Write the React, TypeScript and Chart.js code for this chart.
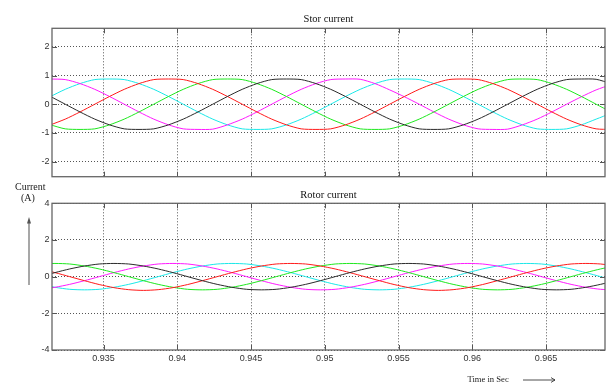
import React, { useEffect, useRef } from 'react';
import { Chart, registerables } from 'chart.js';

Chart.register(...registerables);

// ---------- data ----------
const statorTime = [
  0.9314, 0.9324, 0.9334, 0.9344, 0.9354, 0.9364, 0.9374, 0.9384, 0.9394, 0.9404,
  0.9414, 0.9424, 0.9434, 0.9444, 0.9454, 0.9464, 0.9474, 0.9484, 0.9494, 0.9504,
  0.9514, 0.9524, 0.9534, 0.9544, 0.9554, 0.9564, 0.9574, 0.9584, 0.9594, 0.9604,
  0.9614, 0.9624, 0.9634, 0.9644, 0.9654, 0.9664, 0.9674, 0.9684, 0.9694,
];
const statorBlack = [
  0.27, 0.0, -0.27, -0.52, -0.72, -0.86, -0.88, -0.86, -0.72, -0.52,
  -0.27, 0.0, 0.27, 0.52, 0.72, 0.86, 0.88, 0.86, 0.72, 0.52,
  0.27, 0.0, -0.27, -0.52, -0.72, -0.86, -0.88, -0.86, -0.72, -0.52,
  -0.27, 0.0, 0.27, 0.52, 0.72, 0.86, 0.88, 0.87, 0.72,
];
const statorRed = [
  -0.72, -0.52, -0.27, 0.0, 0.27, 0.52, 0.72, 0.86, 0.88, 0.86,
  0.72, 0.52, 0.27, 0.0, -0.27, -0.52, -0.72, -0.86, -0.88, -0.86,
  -0.72, -0.52, -0.27, 0.0, 0.27, 0.52, 0.72, 0.86, 0.88, 0.86,
  0.72, 0.52, 0.27, 0.0, -0.27, -0.52, -0.72, -0.86, -0.88,
];
const statorGreen = [
  -0.72, -0.86, -0.88, -0.86, -0.72, -0.52, -0.27, 0.0, 0.27, 0.52,
  0.72, 0.86, 0.88, 0.86, 0.72, 0.52, 0.27, 0.0, -0.27, -0.52,
  -0.72, -0.86, -0.88, -0.86, -0.72, -0.52, -0.27, 0.0, 0.27, 0.52,
  0.72, 0.86, 0.88, 0.86, 0.72, 0.52, 0.27, 0.0, -0.27,
];
const statorMagenta = [
  0.88, 0.86, 0.72, 0.52, 0.27, 0.0, -0.27, -0.52, -0.72, -0.86,
  -0.88, -0.87, -0.72, -0.52, -0.27, 0.0, 0.27, 0.52, 0.72, 0.86,
  0.88, 0.87, 0.72, 0.5, 0.26, 0.0, -0.27, -0.52, -0.72, -0.86,
  -0.88, -0.87, -0.72, -0.52, -0.27, 0.0, 0.26, 0.5, 0.68,
];
const statorCyan = [
  0.27, 0.52, 0.72, 0.86, 0.88, 0.86, 0.72, 0.52, 0.27, 0.0,
  -0.27, -0.52, -0.72, -0.86, -0.88, -0.86, -0.72, -0.52, -0.27, 0.0,
  0.27, 0.52, 0.72, 0.86, 0.88, 0.86, 0.72, 0.52, 0.27, 0.0,
  -0.27, -0.52, -0.72, -0.86, -0.88, -0.86, -0.72, -0.52, -0.32,
];

const rotorTime = [
  0.9307, 0.9317, 0.9327, 0.9337, 0.9347, 0.9357, 0.9367, 0.9377, 0.9387, 0.9397,
  0.9407, 0.9417, 0.9427, 0.9437, 0.9447, 0.9457, 0.9467, 0.9477, 0.9487, 0.9497,
  0.9507, 0.9517, 0.9527, 0.9537, 0.9547, 0.9557, 0.9567, 0.9577, 0.9587, 0.9597,
  0.9607, 0.9617, 0.9627, 0.9637, 0.9647, 0.9657, 0.9667, 0.9677, 0.9687, 0.9697,
];
const rotorBlack = [
  0.0, 0.22, 0.42, 0.58, 0.69, 0.72, 0.69, 0.58, 0.42, 0.22,
  0.0, -0.22, -0.42, -0.58, -0.69, -0.72, -0.69, -0.58, -0.42, -0.22,
  0.0, 0.22, 0.42, 0.58, 0.69, 0.72, 0.69, 0.58, 0.42, 0.22,
  0.0, -0.22, -0.42, -0.58, -0.69, -0.72, -0.69, -0.58, -0.42, -0.22,
];
const rotorRed = [
  0.42, 0.22, 0.0, -0.22, -0.43, -0.6, -0.71, -0.75, -0.71, -0.6,
  -0.43, -0.22, 0.0, 0.22, 0.42, 0.58, 0.69, 0.72, 0.69, 0.58,
  0.42, 0.22, 0.0, -0.22, -0.43, -0.6, -0.71, -0.75, -0.71, -0.6,
  -0.43, -0.22, 0.0, 0.22, 0.42, 0.58, 0.69, 0.72, 0.69, 0.58,
];
const rotorGreen = [
  0.69, 0.72, 0.69, 0.58, 0.42, 0.22, 0.0, -0.22, -0.42, -0.58,
  -0.69, -0.72, -0.69, -0.58, -0.42, -0.22, 0.0, 0.22, 0.42, 0.58,
  0.69, 0.72, 0.69, 0.58, 0.42, 0.22, 0.0, -0.22, -0.42, -0.58,
  -0.69, -0.72, -0.69, -0.58, -0.42, -0.22, 0.0, 0.22, 0.42, 0.58,
];
const rotorMagenta = [
  -0.69, -0.58, -0.42, -0.22, 0.0, 0.22, 0.42, 0.58, 0.69, 0.72,
  0.69, 0.58, 0.42, 0.22, 0.0, -0.22, -0.42, -0.58, -0.69, -0.72,
  -0.69, -0.58, -0.42, -0.22, 0.0, 0.22, 0.42, 0.58, 0.69, 0.72,
  0.69, 0.58, 0.42, 0.22, 0.0, -0.22, -0.42, -0.58, -0.69, -0.72,
];
const rotorCyan = [
  -0.42, -0.58, -0.69, -0.72, -0.69, -0.58, -0.42, -0.22, 0.0, 0.22,
  0.42, 0.58, 0.69, 0.72, 0.69, 0.58, 0.42, 0.22, 0.0, -0.22,
  -0.42, -0.58, -0.69, -0.72, -0.69, -0.58, -0.42, -0.22, 0.0, 0.22,
  0.42, 0.58, 0.69, 0.72, 0.69, 0.58, 0.42, 0.22, 0.0, -0.22,
];

const xTickValues = [0.935, 0.94, 0.945, 0.95, 0.955, 0.96, 0.965];
const xTickLabels = ['0.935', '0.94', '0.945', '0.95', '0.955', '0.96', '0.965'];
const statorYTicks = [-2, -1, 0, 1, 2];
const statorYLabels = ['-2', '-1', '0', '1', '2'];
const rotorYTicks = [-4, -2, 0, 2, 4];
const rotorYLabels = ['-4', '-2', '0', '2', '4'];

const seriesColors = {
  black: '#2a2a2a',
  red: '#ff1a1a',
  green: '#1ee81e',
  magenta: '#ff1aff',
  cyan: '#1ae8e8',
};

const SANS = "'Liberation Sans', Arial, sans-serif";
const SERIF = "'Liberation Serif', 'Times New Roman', serif";

// ---------- plugin: MATLAB style frame and inward ticks ----------
const framePlugin = {
  id: 'matlabFrame',
  afterDatasetsDraw(chart: any) {
    const { ctx, chartArea: a, scales } = chart;
    ctx.save();
    const L = 5;
    ctx.strokeStyle = '#555';
    ctx.lineWidth = 1;
    ctx.beginPath();
    scales.x.ticks.forEach((t: any) => {
      const px = Math.round(scales.x.getPixelForValue(t.value)) + 0.5;
      ctx.moveTo(px, a.top);
      ctx.lineTo(px, a.top + L);
      ctx.moveTo(px, a.bottom);
      ctx.lineTo(px, a.bottom - L);
    });
    scales.y.ticks.forEach((t: any) => {
      const py = Math.round(scales.y.getPixelForValue(t.value)) + 0.5;
      ctx.moveTo(a.left, py);
      ctx.lineTo(a.left + L, py);
      ctx.moveTo(a.right, py);
      ctx.lineTo(a.right - L, py);
    });
    ctx.stroke();
    ctx.strokeStyle = '#666';
    ctx.lineWidth = 1.3;
    ctx.strokeRect(a.left, a.top, a.right - a.left, a.bottom - a.top);
    ctx.restore();
  },
};

function makeDataset(label: string, time: number[], vals: number[], color: string) {
  return {
    label,
    data: time.map((t, i) => ({ x: t, y: vals[i] })),
    borderColor: color,
    backgroundColor: color,
    borderWidth: 1,
    pointRadius: 0,
    tension: 0.25,
    fill: false,
  };
}

function makeConfig(opts: {
  title: string;
  titlePad: { top: number; bottom: number };
  datasets: any[];
  yMin: number;
  yMax: number;
  yTicks: number[];
  yLabels: string[];
  showX: boolean;
  xHeight: number;
}) {
  return {
    type: 'line',
    data: { datasets: opts.datasets },
    plugins: [framePlugin],
    options: {
      animation: false,
      responsive: false,
      devicePixelRatio: 1,
      layout: { padding: { left: 0, right: 5, top: 0, bottom: 0 } },
      plugins: {
        legend: { display: false },
        tooltip: { enabled: false },
        title: {
          display: true,
          text: opts.title,
          fullSize: false,
          align: 'center',
          color: '#111',
          font: { family: SERIF, size: 10.5, weight: 'normal' },
          padding: opts.titlePad,
        },
      },
      scales: {
        x: {
          type: 'linear',
          bounds: 'data',
          min: 0.9315,
          max: 0.969,
          afterBuildTicks: (s: any) => {
            s.ticks = xTickValues.map((v) => ({ value: v }));
          },
          afterFit: (s: any) => {
            s.height = opts.xHeight;
            s.paddingLeft = 0;
            s.paddingRight = 0;
          },
          ticks: {
            display: opts.showX,
            autoSkip: false,
            maxRotation: 0,
            padding: 3,
            color: '#333',
            font: { family: SANS, size: 9 },
            callback: (v: number) => {
              const idx = xTickValues.findIndex((t) => Math.abs(t - v) < 1e-9);
              return idx >= 0 ? xTickLabels[idx] : '';
            },
          },
          grid: { color: '#555', lineWidth: 1, drawTicks: false },
          border: { display: false, dash: [1, 2] },
        },
        y: {
          type: 'linear',
          bounds: 'data',
          min: opts.yMin,
          max: opts.yMax,
          afterBuildTicks: (s: any) => {
            s.ticks = opts.yTicks.map((v) => ({ value: v }));
          },
          afterFit: (s: any) => {
            s.width = 52;
            s.paddingTop = 0;
            s.paddingBottom = 0;
          },
          ticks: {
            autoSkip: false,
            padding: 2.5,
            color: '#333',
            font: { family: SANS, size: 9 },
            callback: (v: number) => {
              const idx = opts.yTicks.findIndex((t) => Math.abs(t - v) < 1e-9);
              return idx >= 0 ? opts.yLabels[idx] : '';
            },
          },
          grid: { color: '#555', lineWidth: 1, drawTicks: false },
          border: { display: false, dash: [1, 2] },
        },
      },
    },
  };
}

function Panel({ config, top, height }: { config: any; top: number; height: number }) {
  const ref = useRef<HTMLCanvasElement>(null);
  useEffect(() => {
    const chart = new Chart(ref.current as HTMLCanvasElement, config);
    return () => chart.destroy();
  }, []);
  return (
    <canvas
      ref={ref}
      width={610}
      height={height}
      style={{ position: 'absolute', left: 0, top, width: 610, height }}
    />
  );
}

export default function App() {
  const statorConfig = makeConfig({
    title: 'Stor current',
    titlePad: { top: 13, bottom: 2.7 },
    datasets: [
      makeDataset('Phase 1', statorTime, statorBlack, seriesColors.black),
      makeDataset('Phase 2', statorTime, statorRed, seriesColors.red),
      makeDataset('Phase 3', statorTime, statorGreen, seriesColors.green),
      makeDataset('Phase 4', statorTime, statorMagenta, seriesColors.magenta),
      makeDataset('Phase 5', statorTime, statorCyan, seriesColors.cyan),
    ],
    yMin: -2.53,
    yMax: 2.65,
    yTicks: statorYTicks,
    yLabels: statorYLabels,
    showX: false,
    xHeight: 3.3,
  });
  const rotorConfig = makeConfig({
    title: 'Rotor current',
    titlePad: { top: 8.7, bottom: 2 },
    datasets: [
      makeDataset('Phase 1', rotorTime, rotorBlack, seriesColors.black),
      makeDataset('Phase 2', rotorTime, rotorRed, seriesColors.red),
      makeDataset('Phase 3', rotorTime, rotorGreen, seriesColors.green),
      makeDataset('Phase 4', rotorTime, rotorMagenta, seriesColors.magenta),
      makeDataset('Phase 5', rotorTime, rotorCyan, seriesColors.cyan),
    ],
    yMin: -4,
    yMax: 4,
    yTicks: rotorYTicks,
    yLabels: rotorYLabels,
    showX: true,
    xHeight: 35,
  });

  const textStyle: React.CSSProperties = {
    position: 'absolute',
    fontFamily: SERIF,
    color: '#1a1a1a',
    whiteSpace: 'nowrap',
    margin: 0,
  };

  return (
    <div style={{ position: 'absolute', left: 0, top: 0, width: 610, height: 385, background: '#fff', overflow: 'hidden' }}>
      <Panel config={statorConfig} top={0} height={180} />
      <Panel config={rotorConfig} top={180} height={205} />
      <div style={{ ...textStyle, left: 15, top: 180.6, fontSize: 10, lineHeight: '12px' }}>Current</div>
      <div style={{ ...textStyle, left: 21, top: 192, fontSize: 10, lineHeight: '12px' }}>(A)</div>
      <div style={{ ...textStyle, left: 467.5, top: 374.4, fontSize: 8.6, lineHeight: '10px' }}>Time in Sec</div>
      <svg
        width={610}
        height={385}
        style={{ position: 'absolute', left: 0, top: 0, pointerEvents: 'none' }}
      >
        <line x1={29} y1={285} x2={29} y2={220} stroke="#8a8a8a" strokeWidth={1.5} />
        <polygon points="29,217 27,223.5 31,223.5" fill="#555" />
        <line x1={523} y1={380} x2={555} y2={380} stroke="#222" strokeWidth={0.8} />
        <polyline points="551,377.6 555,380 551,382.4" fill="none" stroke="#222" strokeWidth={0.8} />
      </svg>
    </div>
  );
}
